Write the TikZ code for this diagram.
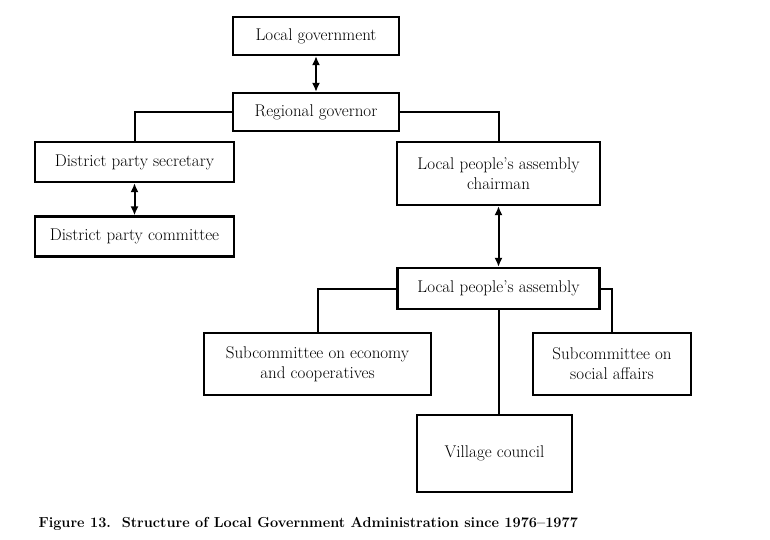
\documentclass[tikz,border=0pt]{standalone}
\usepackage{amsmath,amssymb}
\usepackage{tikz}
\usetikzlibrary{arrows.meta}

\begin{document}
\begin{tikzpicture}[x=1pt,y=-1pt,
    box/.style={draw,line width=2.2pt,inner sep=2pt,align=center,
        font=\fontsize{17}{20}\selectfont},
    link/.style={line width=2pt},
    both/.style={line width=2pt,{Latex[length=9pt,width=8pt]}-{Latex[length=9pt,width=8pt]}}]
    \useasboundingbox (0,0) rectangle (770,540);
    \node[box,minimum width=166pt,minimum height=38pt] (lg) at (316,36) {Local government};
    \node[box,minimum width=166pt,minimum height=38pt] (rg) at (316,112) {Regional governor};
    \node[box,minimum width=199pt,minimum height=40pt] (dps) at (134.5,162) {District party secretary};
    \node[box,minimum width=199pt,minimum height=40pt] (dpc) at (134.5,236.5) {District party committee};
    \node[box,minimum width=203pt,minimum height=63pt] (lpac) at (498.5,173.5) {Local people’s assembly\\chairman};
    \node[box,minimum width=202pt,minimum height=41pt] (lpa) at (498.5,288.5) {Local people’s assembly};
    \node[box,minimum width=227pt,minimum height=62pt] (sec) at (317.5,364) {Subcommittee on economy\\and cooperatives};
    \node[box,minimum width=158pt,minimum height=62pt] (ssa) at (612,364) {Subcommittee on\\social affairs};
    \node[box,minimum width=155pt,minimum height=77pt] (vc) at (494.5,453.5) {Village council};
    \draw[both] (lg.south) -- (rg.north);
    \draw[link] (rg.west) -| (dps.north);
    \draw[link] (rg.east) -| (lpac.north);
    \draw[both] (dps.south) -- (dpc.north);
    \draw[both] (lpac.south) -- (lpa.north);
    \draw[link] (lpa.west) -| (sec.north);
    \draw[link] (lpa.east) -| (ssa.north);
    \draw[link] (lpa.south) -- (lpa.south |- vc.north);
    \node[anchor=base west,font=\fontsize{14.5}{17}\selectfont\bfseries] (cap) at (35,527)
        {Figure 13.\ \ Structure of Local Government Administration since 1976--1977};
\end{tikzpicture}
\end{document}
